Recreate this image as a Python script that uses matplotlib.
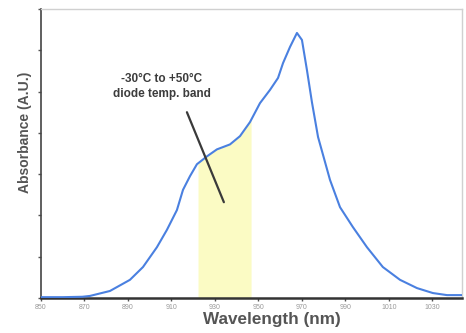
import numpy as np
import matplotlib.pyplot as plt

plt.rcParams['font.family'] = ['Liberation Sans', 'DejaVu Sans']

# absorbance spectrum (arbitrary units, 7 = top of axis)
wavelength = [850, 860, 869, 872.5, 881.7, 890.9, 896.9, 903.3, 907.9, 912.5, 915.3, 918.5,
              921.7, 926.3, 930.9, 936.9, 941.5, 946.1, 950.7, 955.3, 959.0, 961.3, 964.5,
              967.7, 970.0, 972.3, 974.6, 977.4, 982.9, 987.5, 993.4, 999.9, 1007.2,
              1015.1, 1022.9, 1030.2, 1036.7, 1045.4]
absorbance = [0.02, 0.02, 0.03, 0.05, 0.17, 0.44, 0.75, 1.23, 1.65, 2.13, 2.62, 2.95,
              3.24, 3.43, 3.60, 3.72, 3.92, 4.26, 4.72, 5.04, 5.33, 5.69, 6.08,
              6.42, 6.25, 5.52, 4.74, 3.90, 2.86, 2.20, 1.72, 1.23, 0.75,
              0.44, 0.24, 0.12, 0.07, 0.07]

band_lo, band_hi = 922.2, 946.6
xticks = list(range(850, 1031, 20))

fig = plt.figure(figsize=(4.66, 3.33), dpi=100)
ax = fig.add_axes([41 / 466, 35 / 333, 421 / 466, 289 / 333])

wl = np.array(wavelength)
ab = np.array(absorbance)

# yellow band under the curve
mask = (wl >= band_lo) & (wl <= band_hi)
bx = np.concatenate([[band_lo], wl[mask], [band_hi]])
by = np.interp(bx, wl, ab)
ax.fill_between(bx, 0, by, color='#fbfbc4', zorder=1, linewidth=0)

ax.plot(wl, ab, color='#4a80e0', lw=1.5, zorder=3)

# pointer line of the annotation
ax.plot([917.1, 934.1], [4.50, 2.32], color='#3a3a3a', lw=1.6, zorder=4,
        solid_capstyle='round')
ax.text(905.6, 5.12, '-30\u00b0C to +50\u00b0C\ndiode temp. band', ha='center', va='center',
        fontsize=8.5, fontweight='bold', color='#3c3c3c', linespacing=1.3)

ax.set_xlim(850, 1043.6)
ax.set_ylim(0, 7)
ax.set_xticks(xticks)
ax.set_xticklabels([str(t) for t in xticks], fontsize=5, color='#999999')
ax.set_yticks(range(0, 8))
ax.set_yticklabels([])
ax.tick_params(axis='both', direction='out', length=2, width=1, color='#555555', pad=2)

for side in ['top', 'right']:
    ax.spines[side].set_color('#d0d0d0')
    ax.spines[side].set_linewidth(1)
ax.spines['left'].set_color('#444444')
ax.spines['left'].set_linewidth(1.2)
ax.spines['bottom'].set_color('#333333')
ax.spines['bottom'].set_linewidth(1.8)

ax.set_xlabel('Wavelength (nm)', fontsize=12.3, fontweight='bold', color='#555555')
ax.xaxis.set_label_coords((272 - 41) / 421, -0.05)
ax.set_ylabel('Absorbance (A.U.)', fontsize=10, fontweight='bold', color='#555555')
ax.yaxis.set_label_coords(-0.021, (298 - 132) / 289)

fig.savefig('out.png', dpi=100)
